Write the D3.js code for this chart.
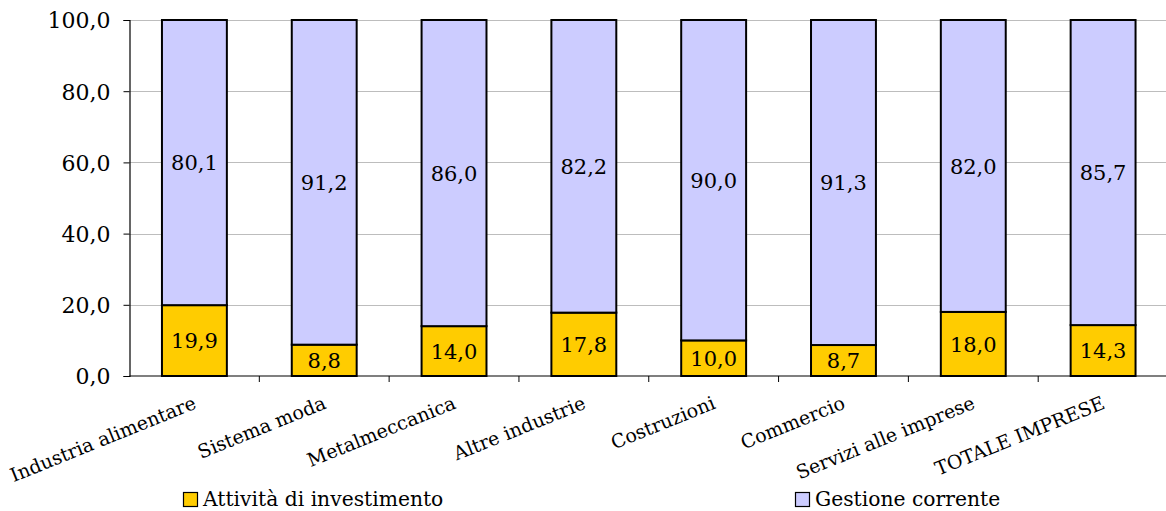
<!DOCTYPE html>
<html><head><meta charset="utf-8">
<script src="https://cdn.jsdelivr.net/npm/d3@7"></script>
<style>body{margin:0;background:#fff}svg{display:block}text{font-family:"DejaVu Serif",serif;fill:#000}</style>
</head><body><svg id="c" width="1166" height="511"></svg>
<script>
const categories = ["Industria alimentare","Sistema moda","Metalmeccanica","Altre industrie","Costruzioni","Commercio","Servizi alle imprese","TOTALE IMPRESE"];
const investimento = [19.9, 8.8, 14.0, 17.8, 10.0, 8.7, 18.0, 14.3];
const gestione = [80.1, 91.2, 86.0, 82.2, 90.0, 91.3, 82.0, 85.7];
const yTicks = [0, 20, 40, 60, 80, 100];
const seriesNames = ["Attività di investimento", "Gestione corrente"];
const colors = ["#FFCC00", "#CCCCFF"];

(function(){
const svg = d3.select("#c");
const pLeft = 129.5, pRight = 1168, pTop = 20, pBottom = 376;
const x = d3.scaleBand().domain(categories).range([pLeft, pRight]).paddingInner(0.5).paddingOuter(0.25);
const y = d3.scaleLinear().domain([0, 100]).range([pBottom, pTop]);
const fmt = v => d3.format(".1f")(v).replace(".", ",");

svg.append("g").selectAll("line").data(yTicks.filter(d => d > 0)).join("line")
  .attr("x1", pLeft).attr("x2", 1166).attr("y1", d => Math.round(y(d)) + 0.5).attr("y2", d => Math.round(y(d)) + 0.5)
  .attr("stroke", "#bdbdbd").attr("stroke-width", 1);

const data = categories.map((c, i) => ({c, a: investimento[i], b: gestione[i]}));
const stack = d3.stack().keys(["a", "b"])(data);

stack.forEach((layer, li) => {
  const g = svg.append("g");
  g.selectAll("rect").data(layer).join("rect")
    .attr("x", d => x(d.data.c)).attr("width", x.bandwidth())
    .attr("y", d => y(d[1])).attr("height", d => y(d[0]) - y(d[1]))
    .attr("fill", colors[li]).attr("stroke", "#000").attr("stroke-width", 2);
  g.selectAll("text").data(layer).join("text")
    .attr("x", d => x(d.data.c) + x.bandwidth() / 2)
    .attr("y", d => (y(d[0]) + y(d[1])) / 2)
    .attr("dy", "0.36em").attr("text-anchor", "middle")
    .style("font-size", "21px")
    .text(d => fmt(d[1] - d[0]));
});

const ya = svg.append("g").attr("transform", `translate(${pLeft},0)`)
  .call(d3.axisLeft(y).tickValues(yTicks).tickSize(6).tickPadding(13).tickFormat(fmt));
ya.selectAll("text").style("font-size", "22px").attr("dy", "0.36em");
ya.select(".domain").attr("stroke", "#000").attr("stroke-width", 1.2);

const xa = svg.append("g").attr("transform", `translate(0,${pBottom})`);
xa.append("line").attr("x1", pLeft).attr("x2", 1166).attr("y1", 0).attr("y2", 0).attr("stroke", "#000").attr("stroke-width", 1.2);
const step = x.step();
xa.selectAll("line.tk").data(d3.range(1, categories.length)).join("line").attr("class", "tk")
  .attr("x1", i => pLeft + i * step).attr("x2", i => pLeft + i * step).attr("y1", 0).attr("y2", 6)
  .attr("stroke", "#000");
xa.selectAll("text").data(categories).join("text")
  .attr("transform", d => `translate(${x(d) + x.bandwidth() / 2 + 3},${32}) rotate(-22)`)
  .attr("text-anchor", "end").style("font-size", "19px").text(d => d);

const leg = [{n: seriesNames[0], c: colors[0], x: 183}, {n: seriesNames[1], c: colors[1], x: 795}];
const lg = svg.append("g");
lg.selectAll("rect").data(leg).join("rect")
  .attr("x", d => d.x + 0.5).attr("y", 492.5).attr("width", 14).attr("height", 14)
  .attr("fill", d => d.c).attr("stroke", "#000").attr("stroke-width", 1.2);
lg.selectAll("text").data(leg).join("text")
  .attr("x", d => d.x + 20).attr("y", 506).style("font-size", "20.3px").text(d => d.n);
})();
</script></body></html>
